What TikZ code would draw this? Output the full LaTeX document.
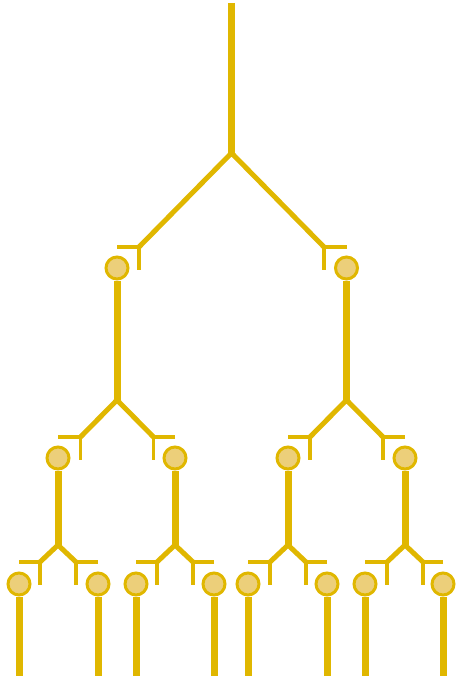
\documentclass[tikz,border=0pt]{standalone}
\definecolor{gold}{RGB}{224,183,0}
\definecolor{goldfill}{RGB}{236,207,122}
\newcommand{\forkat}[5]{% #1 junction, #2 left ball, #3 right ball, #4 dx, #5 dy
  \path (#1) ++(-#4,#5) coordinate (#1l);
  \path (#1) ++(#4,#5) coordinate (#1r);
  \draw[diag] (#1l) -- (#1) -- (#1r);
  \draw[bar] (#2 |- #1l) -- (#1l) -- ++(0,23);
  \draw[bar] (#3 |- #1r) -- (#1r) -- ++(0,23);
}
\begin{document}
\begin{tikzpicture}[x=1pt,y=-1pt,
  stem/.style={draw=gold,line width=7pt},
  diag/.style={draw=gold,line width=5pt,line join=miter},
  bar/.style={draw=gold,line width=3.5pt},
  ball/.style={circle,draw=gold,fill=goldfill,line width=3pt,minimum size=22pt,inner sep=0pt}]
\useasboundingbox (0,0) rectangle (456,676);
\coordinate (bottom) at (0,676);
% level 0
\coordinate (top) at (231.5,3);
\coordinate (j0) at (231.5,153);
% level 1
\node[ball] (a) at (117,268) {};
\node[ball] (b) at (346.5,268) {};
\coordinate (j1) at (117,400);
\coordinate (j2) at (346.5,400);
% level 2
\node[ball] (c) at (58,458) {};
\node[ball] (d) at (175,458) {};
\node[ball] (e) at (288,458) {};
\node[ball] (f) at (405,458) {};
\coordinate (j3) at (58,545);
\coordinate (j4) at (175,545);
\coordinate (j5) at (288,545);
\coordinate (j6) at (405,545);
% level 3
\node[ball] (g) at (19,584) {};
\node[ball] (h) at (98,584) {};
\node[ball] (i) at (136,584) {};
\node[ball] (k) at (214,584) {};
\node[ball] (l) at (248,584) {};
\node[ball] (m) at (327,584) {};
\node[ball] (n) at (365,584) {};
\node[ball] (o) at (443,584) {};
% stems
\draw[stem] (top) -- (j0);
\draw[stem] (a.south) -- (j1);
\draw[stem] (b.south) -- (j2);
\draw[stem] (c.south) -- (j3);
\draw[stem] (d.south) -- (j4);
\draw[stem] (e.south) -- (j5);
\draw[stem] (f.south) -- (j6);
\foreach \b in {g,h,i,k,l,m,n,o}{
  \draw[stem] (\b.south) -- (\b.south |- bottom);
}
% forks
\forkat{j0}{a}{b}{92.5}{94}
\forkat{j1}{c}{d}{36.5}{37}
\forkat{j2}{e}{f}{36.5}{37}
\forkat{j3}{g}{h}{18}{17}
\forkat{j4}{i}{k}{18}{17}
\forkat{j5}{l}{m}{18}{17}
\forkat{j6}{n}{o}{18}{17}
\end{tikzpicture}
\end{document}
